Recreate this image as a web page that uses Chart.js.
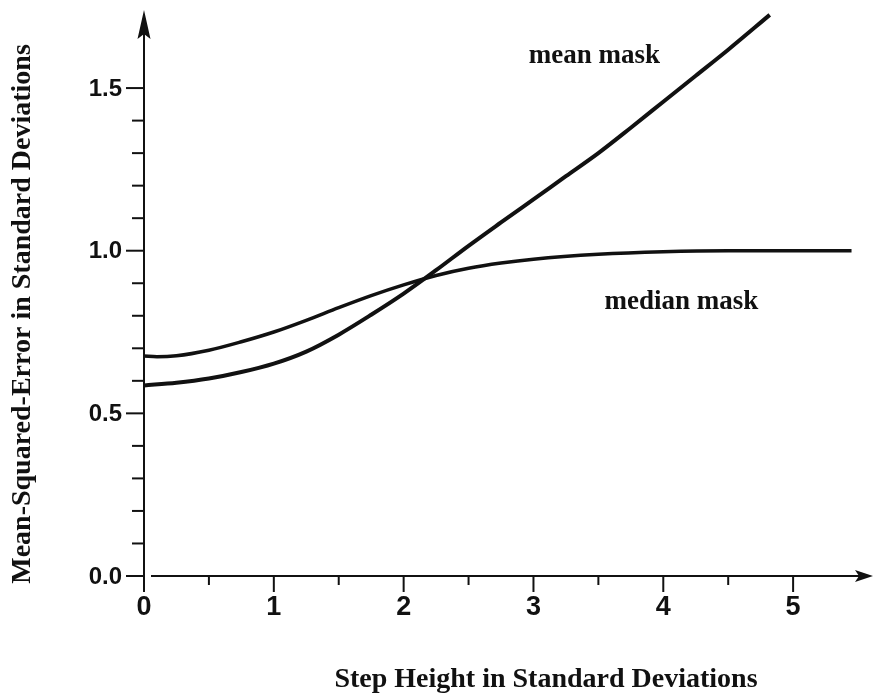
<!DOCTYPE html>
<html>
<head>
<meta charset="utf-8">
<title>Mean-Squared-Error vs Step Height</title>
<script src="https://cdn.jsdelivr.net/npm/chart.js@4/dist/chart.umd.min.js"></script>
<style>
    html, body { margin: 0; padding: 0; background: #fff; }
    #wrap { width: 876px; height: 699px; }
</style>
</head>
<body>
<div id="wrap"><canvas id="mseChart" width="876" height="699"></canvas></div>
<script>
// Values
const meanStep = [0, 0.25, 0.5, 0.75, 1.0, 1.25, 1.5, 1.75, 2.0, 2.25, 2.5, 2.75, 3.0, 3.25, 3.5, 3.75, 4.0, 4.25, 4.5, 4.82];
const meanMSE = [0.586, 0.594, 0.607, 0.627, 0.653, 0.69, 0.742, 0.803, 0.868, 0.94, 1.015, 1.087, 1.158, 1.229, 1.30, 1.378, 1.458, 1.538, 1.618, 1.725];

const medianStep = [0, 0.1, 0.25, 0.5, 0.75, 1.0, 1.25, 1.5, 1.75, 2.0, 2.25, 2.5, 2.75, 3.0, 3.5, 4.0, 4.5, 5.0, 5.45];
const medianMSE = [0.676, 0.674, 0.677, 0.694, 0.72, 0.75, 0.786, 0.825, 0.862, 0.895, 0.924, 0.946, 0.962, 0.974, 0.989, 0.997, 1.0, 1.0, 1.0];

const xTicks = [0, 1, 2, 3, 4, 5];
const xMinorTicks = [0.5, 1.5, 2.5, 3.5, 4.5];
const yTicks = [0, 0.5, 1.0, 1.5];
const yMinorTicks = [0.1, 0.2, 0.3, 0.4, 0.6, 0.7, 0.8, 0.9, 1.1, 1.2, 1.3, 1.4];

const toPoints = (xs, ys) => xs.map((x, i) => ({ x: x, y: ys[i] }));

const INK = '#111';
const SERIF = '"Liberation Serif", "Times New Roman", serif';
const SANS = '"Liberation Sans", Arial, sans-serif';

/**
 * Draws the hand-made axes: lines with arrowheads, major/minor ticks,
 * tick labels, axis titles and the curve labels.
 */
const axesPlugin = {
    id: 'axesPlugin',
    afterDraw(chart) {
        const { ctx, chartArea, scales } = chart;
        const xs = scales.x, ys = scales.y;
        const x0 = xs.getPixelForValue(0);
        const y0 = ys.getPixelForValue(0);

        ctx.save();
        ctx.strokeStyle = INK;
        ctx.fillStyle = INK;
        ctx.lineWidth = 2;
        ctx.lineCap = 'butt';

        // y axis line
        ctx.beginPath();
        ctx.moveTo(x0, y0 + 2);
        ctx.lineTo(x0, chartArea.top + 20);
        ctx.stroke();
        // y arrowhead
        ctx.beginPath();
        ctx.moveTo(x0, chartArea.top);
        ctx.lineTo(x0 + 6.5, chartArea.top + 29);
        ctx.lineTo(x0, chartArea.top + 24);
        ctx.lineTo(x0 - 6.5, chartArea.top + 29);
        ctx.closePath();
        ctx.fill();

        // x axis line (small gap after the y axis, as in the figure)
        ctx.beginPath();
        ctx.moveTo(x0 + 7, y0);
        ctx.lineTo(chartArea.right - 12, y0);
        ctx.stroke();
        // x arrowhead
        const tipX = chartArea.right + 2;
        ctx.beginPath();
        ctx.moveTo(tipX, y0);
        ctx.lineTo(tipX - 18, y0 - 6);
        ctx.lineTo(tipX - 14, y0);
        ctx.lineTo(tipX - 18, y0 + 6);
        ctx.closePath();
        ctx.fill();

        // y ticks (outward, to the left)
        yTicks.forEach(v => {
            const py = ys.getPixelForValue(v);
            ctx.beginPath();
            ctx.moveTo(x0 - 18, py);
            ctx.lineTo(x0, py);
            ctx.stroke();
        });
        yMinorTicks.forEach(v => {
            const py = ys.getPixelForValue(v);
            ctx.beginPath();
            ctx.moveTo(x0 - 12, py);
            ctx.lineTo(x0, py);
            ctx.stroke();
        });

        // x ticks (downward)
        xTicks.forEach(v => {
            const px = xs.getPixelForValue(v);
            ctx.beginPath();
            ctx.moveTo(px, y0);
            ctx.lineTo(px, y0 + 16);
            ctx.stroke();
        });
        xMinorTicks.forEach(v => {
            const px = xs.getPixelForValue(v);
            ctx.beginPath();
            ctx.moveTo(px, y0);
            ctx.lineTo(px, y0 + 9);
            ctx.stroke();
        });

        // tick labels
        ctx.font = 'bold 24px ' + SANS;
        ctx.textAlign = 'right';
        ctx.textBaseline = 'middle';
        yTicks.forEach(v => {
            ctx.fillText(v.toFixed(1), x0 - 22, ys.getPixelForValue(v) + 1);
        });
        ctx.font = 'bold 27px ' + SANS;
        ctx.textAlign = 'center';
        ctx.textBaseline = 'top';
        xTicks.forEach(v => {
            ctx.fillText(String(v), xs.getPixelForValue(v), y0 + 18);
        });

        // axis titles
        ctx.font = 'bold 28px ' + SERIF;
        ctx.textAlign = 'center';
        ctx.textBaseline = 'middle';
        ctx.fillText('Step Height in Standard Deviations', 546, 680);

        ctx.save();
        ctx.translate(23, 314);
        ctx.rotate(-Math.PI / 2);
        ctx.fillText('Mean-Squared-Error in Standard Deviations', 0, 0);
        ctx.restore();

        // curve labels
        ctx.font = 'bold 27px ' + SERIF;
        ctx.fillText('mean mask', xs.getPixelForValue(3.47), ys.getPixelForValue(1.60));
        ctx.fillText('median mask', xs.getPixelForValue(4.14), ys.getPixelForValue(0.842));

        ctx.restore();
    }
};

document.addEventListener('DOMContentLoaded', () => {
    const ctx = document.getElementById('mseChart');
    new Chart(ctx, {
        type: 'scatter',
        data: {
            datasets: [
                {
                    label: 'mean mask',
                    data: toPoints(meanStep, meanMSE),
                    showLine: true,
                    borderColor: INK,
                    borderWidth: 4,
                    pointRadius: 0,
                    cubicInterpolationMode: 'monotone',
                    fill: false
                },
                {
                    label: 'median mask',
                    data: toPoints(medianStep, medianMSE),
                    showLine: true,
                    borderColor: INK,
                    borderWidth: 3.5,
                    pointRadius: 0,
                    cubicInterpolationMode: 'monotone',
                    fill: false
                }
            ]
        },
        options: {
            responsive: false,
            animation: false,
            layout: {
                padding: { left: 144, right: 5, top: 10, bottom: 123 }
            },
            plugins: {
                legend: { display: false },
                tooltip: { enabled: false }
            },
            scales: {
                x: { type: 'linear', min: 0, max: 5.6, display: false },
                y: { type: 'linear', min: 0, max: 1.74, display: false }
            }
        },
        plugins: [axesPlugin]
    });
});
</script>
</body>
</html>
